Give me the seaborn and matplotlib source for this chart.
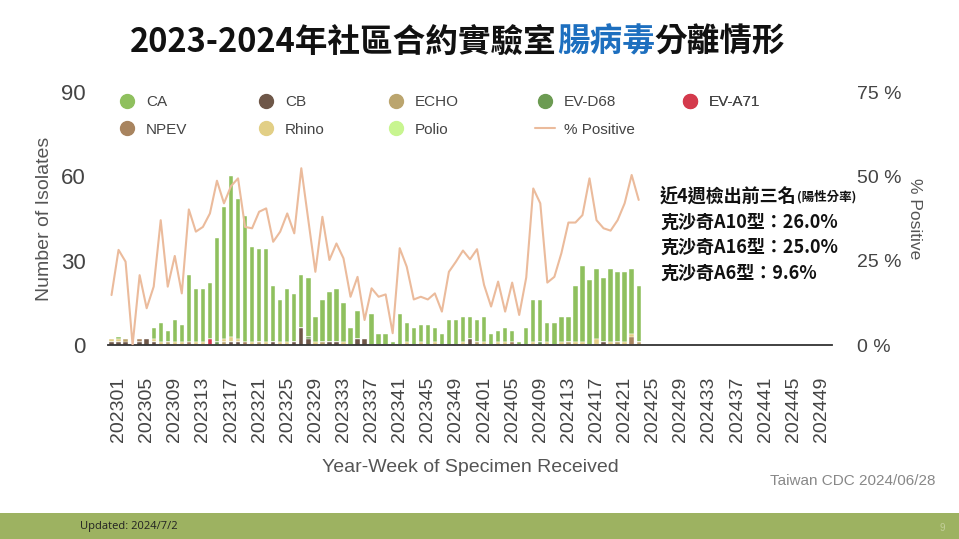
import numpy as np
import pandas as pd
import matplotlib
matplotlib.use("Agg")
import matplotlib.pyplot as plt
import seaborn as sns
from matplotlib.lines import Line2D
from matplotlib.patches import Rectangle

# x categories: 202252 + 2023 week 01-52 + 2024 week 01-50
weeks = ["202252"] + [f"2023{w:02d}" for w in range(1, 53)] + [f"2024{w:02d}" for w in range(1, 51)]
tick_weeks = weeks[1::4]

# isolates per week, 76 weeks with data
ca = [0, 1, 0, 0, 0, 0, 4, 7, 4, 8, 6, 24, 19, 19, 20, 37, 47, 57, 50, 45,
      34, 33, 33, 20, 15, 19, 17, 19, 21, 9, 15, 18, 19, 14, 6, 10, 0, 11, 4, 4,
      1, 11, 7, 6, 6, 7, 5, 4, 9, 9, 9, 8, 8, 9, 4, 4, 5, 4, 1, 6,
      15, 15, 7, 8, 9, 9, 20, 27, 23, 25, 23, 26, 25, 25, 23, 20]
cb = [1, 1, 1, 0, 1, 2, 1, 0, 0, 0, 0, 0, 0, 0, 0, 0, 0, 1, 1, 0,
      0, 0, 0, 1, 0, 0, 1, 6, 2, 0, 0, 1, 1, 0, 0, 2, 2, 0, 0, 0,
      0, 0, 0, 0, 0, 0, 0, 0, 0, 0, 0, 2, 0, 0, 0, 0, 0, 0, 0, 0,
      0, 0, 0, 0, 0, 0, 0, 0, 0, 0, 1, 0, 0, 0, 0, 0]
echo = [0, 0, 1, 0, 0, 0, 0, 0, 1, 0, 0, 0, 0, 0, 0, 0, 1, 0, 0, 0,
        0, 1, 0, 0, 0, 0, 0, 0, 0, 0, 1, 0, 0, 0, 0, 0, 0, 0, 0, 0,
        0, 0, 0, 0, 0, 0, 0, 0, 0, 0, 0, 0, 1, 0, 0, 0, 0, 0, 0, 0,
        0, 0, 0, 0, 0, 1, 0, 0, 0, 0, 0, 0, 1, 0, 0, 1]
ev_d68 = [0, 0, 0, 0, 0, 0, 0, 0, 0, 0, 0, 0, 0, 0, 0, 1, 0, 0, 0, 0,
          0, 0, 0, 0, 0, 0, 0, 0, 1, 0, 0, 0, 0, 0, 0, 0, 0, 0, 0, 0,
          0, 0, 0, 0, 0, 0, 0, 0, 0, 0, 0, 0, 0, 0, 0, 0, 0, 0, 0, 0,
          0, 1, 0, 0, 0, 0, 0, 0, 0, 0, 0, 0, 0, 0, 0, 0]
ev_a71 = [0, 0, 0, 0, 0, 0, 0, 0, 0, 0, 0, 0, 0, 0, 2, 0, 0, 0, 0, 0,
          0, 0, 0, 0, 0, 0, 0, 0, 0, 0, 0, 0, 0, 0, 0, 0, 0, 0, 0, 0,
          0, 0, 0, 0, 0, 0, 0, 0, 0, 0, 0, 0, 0, 0, 0, 0, 0, 0, 0, 0,
          0, 0, 0, 0, 0, 0, 0, 0, 0, 0, 0, 0, 0, 0, 0, 0]
npev = [0, 0, 0, 0, 1, 0, 0, 0, 0, 0, 0, 1, 0, 0, 0, 0, 0, 0, 0, 1,
        0, 0, 0, 0, 0, 0, 0, 0, 0, 0, 0, 0, 0, 0, 0, 0, 0, 0, 0, 0,
        0, 0, 0, 0, 0, 0, 0, 0, 0, 0, 0, 0, 0, 0, 0, 0, 0, 1, 0, 0,
        0, 0, 0, 0, 0, 0, 0, 0, 0, 0, 0, 0, 0, 0, 3, 0]
rhino = [1, 1, 0, 0, 0, 0, 1, 1, 0, 1, 1, 0, 1, 1, 0, 0, 1, 2, 1, 0,
         1, 0, 1, 0, 1, 1, 0, 0, 0, 1, 0, 0, 0, 1, 0, 0, 0, 0, 0, 0,
         0, 0, 1, 0, 1, 0, 1, 0, 0, 0, 1, 0, 0, 1, 0, 1, 1, 0, 0, 0,
         1, 0, 1, 0, 1, 0, 1, 1, 0, 2, 0, 1, 0, 1, 1, 0]
polio = [0] * 76

# % positive per week
pct_positive = [14.8, 28.2, 24.7, 0, 20.7, 10.9, 17.3, 37, 17.3, 26.4,
                15.3, 40.2, 33.6, 35, 39, 48.7, 42, 47.1, 49.4, 35,
                34.6, 39.5, 40.5, 30.6, 33.6, 39, 33.1, 52.4, 37, 21.7,
                38, 25.2, 30.1, 25.7, 14.3, 20.2, 7.4, 16.8, 14.3, 15,
                3.5, 28.7, 23.2, 13.5, 14.3, 13.5, 15.3, 9.9, 21.7, 24.7,
                28, 25.4, 28.4, 17.8, 11.4, 18.8, 9.9, 18.5, 8.9, 20,
                46.4, 42, 18.5, 20.2, 27.2, 36.3, 36.3, 38.5, 49.4, 37,
                34.6, 33.9, 37, 42, 50.4, 43]

colors = {"CA": "#8fc05e", "CB": "#6e5748", "ECHO": "#bba56e", "EV-D68": "#6c9b52",
          "EV-A71": "#d43a4c", "NPEV": "#a8845f", "Rhino": "#e2cf86", "Polio": "#c8f590"}
line_color = "#ebbb9c"

df = pd.DataFrame({"week": weeks[:len(ca)], "CA": ca, "CB": cb, "ECHO": echo,
                   "EV-D68": ev_d68, "EV-A71": ev_a71, "NPEV": npev,
                   "Rhino": rhino, "Polio": polio})
stack = ["CB", "ECHO", "EV-D68", "EV-A71", "NPEV", "Rhino", "Polio", "CA"]
cum = df[stack].cumsum(axis=1)

sns.set_theme(style="white")
plt.rcParams["font.family"] = ["Liberation Sans", "Noto Sans CJK TC", "DejaVu Sans"]
cjk = ["Noto Sans CJK TC", "DejaVu Sans"]

fig = plt.figure(figsize=(9.59, 5.39), dpi=100)
ax = fig.add_axes([108 / 959, 1 - 345 / 539, 724 / 959, 253 / 539])

# stacked bars: draw cumulative totals from the top layer down
for name in reversed(stack):
    sns.barplot(x=df["week"], y=cum[name], order=weeks, color=colors[name],
                saturation=1, width=0.62, edgecolor="white", linewidth=0.3,
                errorbar=None, ax=ax)

ax.set_xlim(-0.5, len(weeks) - 0.5)
ax.set_ylim(0, 90)
ax.set_yticks([0, 30, 60, 90])
ax.set_xticks([weeks.index(w) for w in tick_weeks])
ax.set_xticklabels(tick_weeks, rotation=90)
ax.tick_params(axis="x", length=0, pad=23, labelsize=14, labelcolor="#444")
ax.tick_params(axis="y", length=0, pad=16, labelsize=16, labelcolor="#444")
ax.set_xlabel("Year-Week of Specimen Received", fontsize=14, color="#555", labelpad=12)
ax.set_ylabel("Number of Isolates", fontsize=14, color="#555", labelpad=6)
for s in ["top", "right", "left"]:
    ax.spines[s].set_visible(False)
ax.spines["bottom"].set_color("#333")
ax.spines["bottom"].set_linewidth(1.3)

ax2 = ax.twinx()
sns.lineplot(x=np.arange(len(pct_positive)), y=pct_positive, color=line_color,
             linewidth=1.5, ax=ax2)
ax2.set_ylim(0, 75)
ax2.set_yticks([0, 25, 50, 75])
ax2.set_yticklabels(["0 %", "25 %", "50 %", "75 %"])
ax2.tick_params(axis="y", length=0, pad=18, labelsize=14, labelcolor="#444")
ax2.set_ylabel("% Positive", rotation=270, va="bottom", fontsize=12.5, color="#555", labelpad=4)
for s in ["top", "right", "left", "bottom"]:
    ax2.spines[s].set_visible(False)

# legend laid out as 5 columns x 2 rows
def dot(c):
    return Line2D([], [], marker="o", linestyle="", markersize=10,
                  markerfacecolor=c, markeredgecolor=c)

columns = [[("CA", dot(colors["CA"])), ("NPEV", dot(colors["NPEV"]))],
           [("CB", dot(colors["CB"])), ("Rhino", dot(colors["Rhino"]))],
           [("ECHO", dot(colors["ECHO"])), ("Polio", dot(colors["Polio"]))],
           [("EV-D68", dot(colors["EV-D68"])), ("% Positive", Line2D([], [], color=line_color, lw=1.5))],
           [("EV-A71", dot(colors["EV-A71"]))]]
col_x = [127, 266, 396, 545, 690]
for cx, col in zip(col_x, columns):
    leg = ax2.legend([h for _, h in col], [t for t, _ in col], loc="upper left",
                     bbox_to_anchor=((cx - 10) / 959, 1 - 95 / 539),
                     bbox_transform=fig.transFigure, frameon=False, fontsize=11,
                     handlelength=1.3, handletextpad=0.6, labelspacing=0.9,
                     borderpad=0, borderaxespad=0, labelcolor="#444")
    ax2.add_artist(leg)

# title with the coloured middle part
t1 = fig.text(130 / 959, 1 - 42 / 539, "2023-2024年社區合約實驗室", fontsize=23.5,
              fontweight="bold", family=cjk, color="#111", va="center")
t2 = ax.annotate("腸病毒", xy=(1, 0), xycoords=t1, va="bottom", ha="left",
                 fontsize=23.5, fontweight="bold", family=cjk, color="#1d6fbf")
ax.annotate("分離情形", xy=(1, 0), xycoords=t2, va="bottom", ha="left",
            fontsize=23.5, fontweight="bold", family=cjk, color="#111")

# top-3 note
note_lines = ["近4週檢出前三名", "克沙奇A10型：26.0%", "克沙奇A16型：25.0%", "克沙奇A6型：9.6%"]
note_y = [196, 222, 247, 273]
for txt, yy in zip(note_lines, note_y):
    t = fig.text(660 / 959, 1 - yy / 539, txt, fontsize=13, fontweight="bold",
                 family=cjk, color="#111", va="center")
    if txt.startswith("近4週"):
        ax.annotate("(陽性分率)", xy=(1, 0.12), xycoords=t, va="bottom", ha="left",
                    fontsize=9, fontweight="bold", family=cjk, color="#111")

fig.text(935 / 959, 1 - 481 / 539, "Taiwan CDC 2024/06/28", ha="right", va="center",
         fontsize=11, color="#888")

# footer band
fig.add_artist(Rectangle((0, 0), 1, 26 / 539, transform=fig.transFigure,
                         facecolor="#9db261", edgecolor="none", zorder=0))
fig.text(80 / 959, 1 - 527 / 539, "Updated: 2024/7/2", fontsize=8, color="#222",
         va="center", family=["Open Sans", "DejaVu Sans"])
fig.text(940 / 959, 1 - 528 / 539, "9", fontsize=7, color="#c3cf9a", va="center")

fig.savefig("out.png", dpi=100)
